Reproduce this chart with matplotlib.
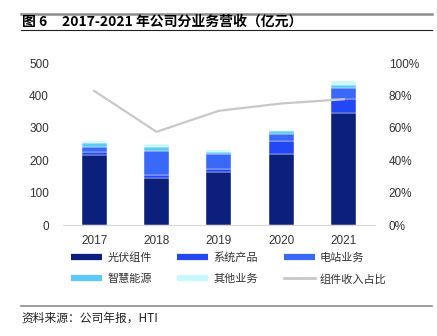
import numpy as np
import matplotlib.pyplot as plt
from matplotlib.lines import Line2D

plt.rcParams['font.family'] = ['Liberation Sans', 'Noto Sans CJK SC', 'DejaVu Sans']
cjk = ['Noto Sans CJK SC', 'DejaVu Sans']

years = ['2017', '2018', '2019', '2020', '2021']
# revenue by business line (100 million yuan)
pv_modules = [216, 144, 163, 220, 345]
system_products = [9, 12, 11, 41, 45]
power_stations = [16, 73, 46, 21, 34]
smart_energy = [12, 11, 6, 8, 8]
other_business = [8, 10, 5, 3, 12]
# module revenue share (%)
module_share = [82.9, 57.6, 70.6, 75.1, 77.7]

series_names = ['光伏组件', '系统产品', '电站业务', '智慧能源', '其他业务']
line_name = '组件收入占比'
colors = ['#0b1f7c', '#2447f5', '#3a68f8', '#5ccaf8', '#c8f8fa']

fig = plt.figure(figsize=(4.37, 3.36), dpi=100)
ax = fig.add_axes([0.144, 0.330, 0.714, 0.482])

x = np.arange(len(years))
bottom = np.zeros(len(years))
for vals, c in zip([pv_modules, system_products, power_stations, smart_energy, other_business], colors):
    ax.bar(x, vals, 0.4, bottom=bottom, color=c, edgecolor='white', linewidth=0.3)
    bottom += np.array(vals)

ax.set_xlim(-0.5, 4.5)
ax.set_ylim(0, 500)
ax.set_yticks(range(0, 501, 100))
ax.set_xticks(x)
ax.set_xticklabels(years)
for s in ['top', 'left', 'right']:
    ax.spines[s].set_visible(False)
ax.spines['bottom'].set_color('#d9d9d9')
ax.tick_params(axis='both', length=0, labelsize=8.5, colors='#333333')
ax.tick_params(axis='y', pad=10)
ax.tick_params(axis='x', pad=7)

ax2 = ax.twinx()
ax2.plot(x, module_share, color='#c8c8c8', linewidth=1.6)
ax2.set_ylim(0, 100)
ax2.set_yticks(range(0, 101, 20))
ax2.set_yticklabels([f'{v}%' for v in range(0, 101, 20)])
for s in ax2.spines.values():
    s.set_visible(False)
ax2.tick_params(axis='y', length=0, labelsize=8.5, colors='#333333', pad=10)

handles = [Line2D([], [], color=c, linewidth=4.5, solid_capstyle='butt') for c in colors]
handles.append(Line2D([], [], color='#c8c8c8', linewidth=2))
labels = series_names + [line_name]
# legend fills column by column; reorder so rows read left to right
order = [0, 3, 1, 4, 2, 5]
leg = fig.legend([handles[i] for i in order], [labels[i] for i in order], ncol=3,
                 loc='upper left', bbox_to_anchor=(0.14, 0.279), frameon=False,
                 prop={'family': cjk, 'size': 8}, handlelength=2.8, handletextpad=0.45,
                 columnspacing=2.3, labelspacing=0.95)
for t in leg.get_texts():
    t.set_color('#333333')

# header and footer rules
fig.add_artist(Line2D([0.048, 0.989], [1 - 14 / 336] * 2, color='#8c8c8c', linewidth=1.8))
fig.add_artist(Line2D([0.048, 0.989], [1 - 30 / 336] * 2, color='#222222', linewidth=0.8))
fig.add_artist(Line2D([0.048, 0.989], [1 - 305.5 / 336] * 2, color='#8c8c8c', linewidth=1.2))

fig.text(0.05, 1 - 22 / 336, '图 6', family=cjk, fontsize=10, fontweight='bold', va='center')
fig.text(0.142, 1 - 22 / 336, '2017-2021 年公司分业务营收（亿元）', family=cjk,
         fontsize=10, fontweight='bold', va='center')
fig.text(0.05, 1 - 318 / 336, '资料来源：公司年报，HTI', family=cjk, fontsize=8.5,
         va='center', color='#222222')

fig.savefig('out.png', dpi=100)
